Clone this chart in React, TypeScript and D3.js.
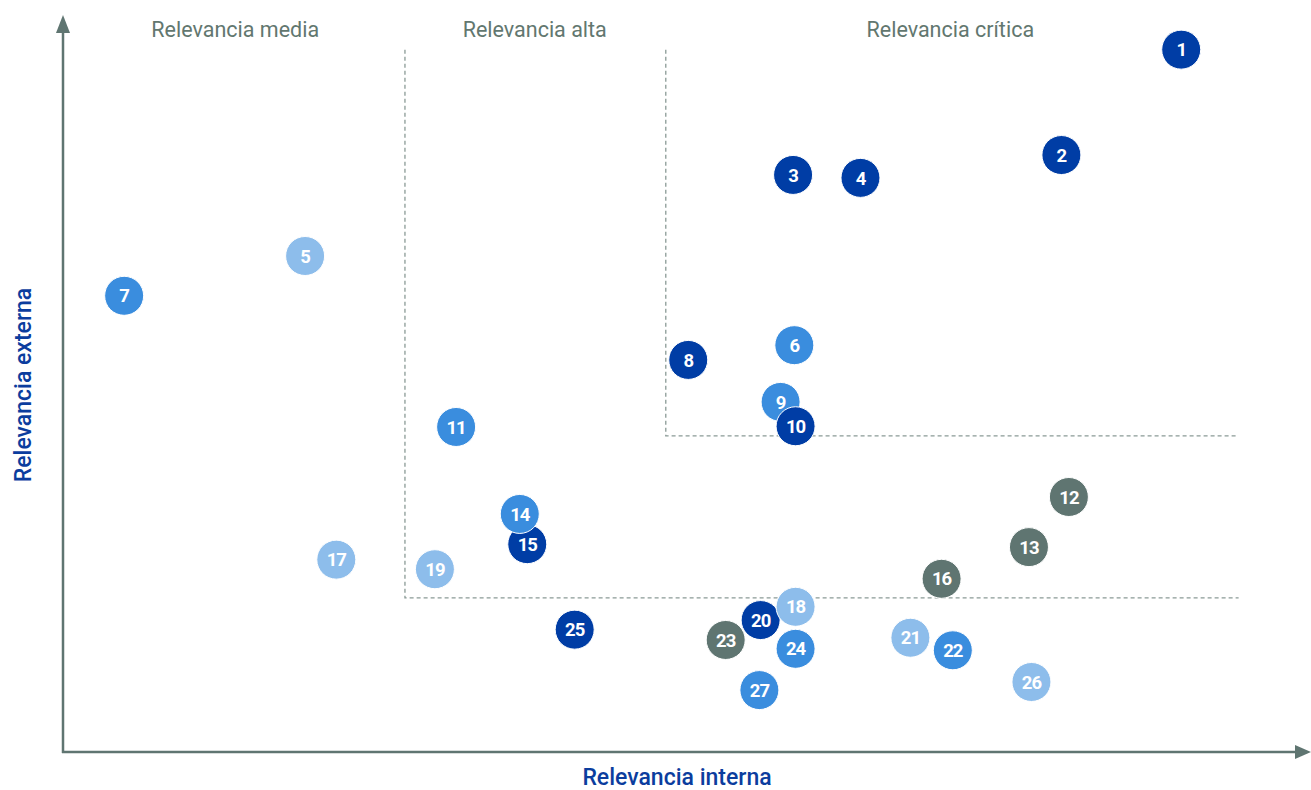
import * as d3 from "d3";
import { useEffect, useRef } from "react";

type Topic = { id: number; interna: number; externa: number; group: string };

// drawing order matters where circles overlap
const IDS = [1, 2, 3, 4, 5, 6, 7, 8, 9, 10, 11, 12, 13, 15, 14, 16, 17, 19, 23, 20, 18, 21, 22, 24, 25, 26, 27];
const INTERNA = [89.6, 80.0, 58.5, 63.9, 19.4, 58.6, 4.9, 50.1, 57.5, 58.7, 31.5, 80.6, 77.4, 37.2, 36.6, 70.4, 21.9, 29.8, 53.1, 55.9, 58.7, 67.9, 71.3, 58.7, 41.0, 77.6, 55.8];
const EXTERNA = [95.3, 81.0, 78.3, 77.9, 67.3, 55.2, 61.9, 53.2, 47.5, 44.2, 44.1, 34.6, 27.8, 28.2, 32.3, 23.5, 26.1, 24.8, 15.2, 17.9, 19.7, 15.5, 13.8, 14.0, 16.6, 9.5, 8.4];
const GROUPS = ["dark", "dark", "dark", "dark", "light", "mid", "mid", "dark", "mid", "dark", "mid", "gray", "gray", "dark", "mid", "gray", "light", "light", "gray", "dark", "light", "light", "mid", "mid", "dark", "light", "mid"];

const ZONES = ["Relevancia media", "Relevancia alta", "Relevancia crítica"];
const ZONE_CENTERS = [13.8, 37.8, 71.1];
// thresholds: corner of each dashed box, in data units
const BOX_ALTA = { x: 27.4, y: 20.9 };
const BOX_CRITICA = { x: 48.3, y: 42.9 };
const BOX_X_END = 94.2;
const BOX_Y_END = 95.3;

const DATA: Topic[] = IDS.map((id, i) => ({ id, interna: INTERNA[i], externa: EXTERNA[i], group: GROUPS[i] }));

export default function App() {
  const ref = useRef<SVGSVGElement | null>(null);
  useEffect(() => {
    if (!ref.current) return;
    const svg = d3.select(ref.current);
    svg.selectAll("*").remove();
    const width = 1311;
    const height = 790;
    const left = 63, right = 1311, top = 15, bottom = 752;
    const axisColor = "#5f7571";

    const x = d3.scaleLinear().domain([0, 100]).range([left, right]);
    const y = d3.scaleLinear().domain([0, 100]).range([bottom, top]);
    const color = d3.scaleOrdinal<string, string>()
      .domain(["dark", "mid", "light", "gray"])
      .range(["#003da5", "#3a8dde", "#8dbdeb", "#5f7571"]);

    svg.attr("viewBox", `0 0 ${width} ${height}`);

    // dashed zone boxes
    const dash = svg.append("g").attr("fill", "none").attr("stroke", "#8a9a96").attr("stroke-width", 1.3).attr("stroke-dasharray", "4,3");
    [BOX_ALTA, BOX_CRITICA].forEach((b) => {
      dash.append("path").attr("d", `M${x(b.x)},${y(BOX_Y_END)}V${y(b.y)}H${x(BOX_X_END)}`);
    });

    // zone labels
    svg.append("g").selectAll("text").data(ZONES).join("text")
      .attr("x", (_, i) => x(ZONE_CENTERS[i]))
      .attr("y", 37)
      .attr("text-anchor", "middle")
      .attr("font-family", "Roboto, sans-serif")
      .attr("font-size", 21.5)
      .attr("fill", "#62776f")
      .text((d) => d);

    // axes with arrows
    svg.append("line").attr("x1", left).attr("x2", left).attr("y1", bottom + 1).attr("y2", top + 16)
      .attr("stroke", axisColor).attr("stroke-width", 2.5);
    svg.append("line").attr("x1", left - 1).attr("x2", right - 14).attr("y1", bottom).attr("y2", bottom)
      .attr("stroke", axisColor).attr("stroke-width", 2.5);
    svg.append("path").attr("d", `M${left},${top}L${left - 7},${top + 18}L${left + 7},${top + 18}Z`).attr("fill", axisColor);
    svg.append("path").attr("d", `M${right},${bottom}L${right - 16},${bottom - 7}L${right - 16},${bottom + 7}Z`).attr("fill", axisColor);

    // axis titles
    svg.append("text").attr("x", 677).attr("y", 785).attr("text-anchor", "middle")
      .attr("font-family", "Roboto, sans-serif").attr("font-size", 23).attr("font-weight", 500)
      .attr("fill", "#0b3d9e").text("Relevancia interna");
    svg.append("text").attr("transform", `translate(31,385) rotate(-90)`).attr("text-anchor", "middle")
      .attr("font-family", "Roboto, sans-serif").attr("font-size", 23).attr("font-weight", 500)
      .attr("fill", "#0b3d9e").text("Relevancia externa");

    // points
    const pts = svg.append("g").selectAll("g").data(DATA).join("g")
      .attr("transform", (d) => `translate(${x(d.interna)},${y(d.externa)})`);
    pts.append("circle").attr("r", 19.5).attr("fill", (d) => color(d.group))
      .attr("stroke", "#fff").attr("stroke-width", 1);
    pts.append("text").attr("text-anchor", "middle").attr("dy", "0.36em")
      .attr("font-family", "Roboto, sans-serif").attr("font-size", 18.5).attr("font-weight", 700)
      .attr("fill", "#fff").attr("letter-spacing", -1)
      .text((d) => d.id);
  }, []);
  return <svg ref={ref} width={1311} height={790} style={{ position: "absolute", left: 0, top: 0 }} />;
}
